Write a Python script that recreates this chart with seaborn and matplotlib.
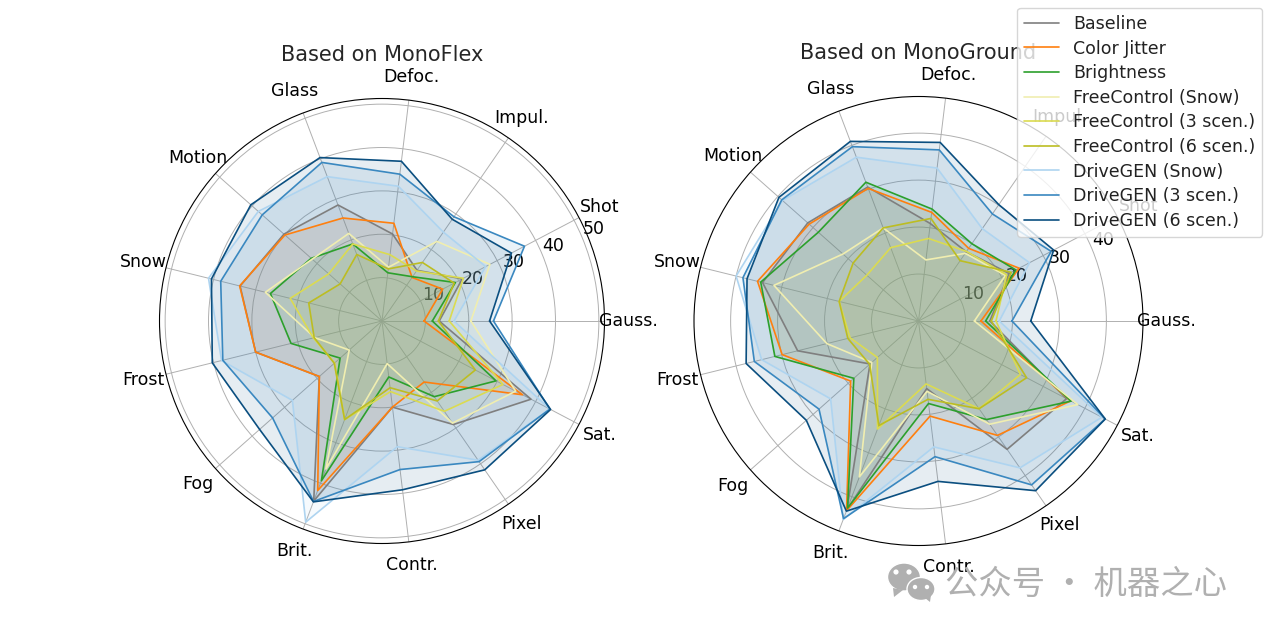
import numpy as np
import pandas as pd
import matplotlib
matplotlib.use("Agg")
import matplotlib.pyplot as plt
from matplotlib.patches import Ellipse, Polygon
import seaborn as sns

categories = ["Gauss.", "Shot", "Impul.", "Defoc.", "Glass", "Motion", "Snow",
              "Frost", "Fog", "Brit.", "Contr.", "Pixel", "Sat."]
series_names = ["Baseline", "Color Jitter", "Brightness", "FreeControl (Snow)",
                "FreeControl (3 scen.)", "FreeControl (6 scen.)",
                "DriveGEN (Snow)", "DriveGEN (3 scen.)", "DriveGEN (6 scen.)"]
series_colors = ["#7f7f7f", "#ff7f0e", "#2ca02c", "#f0eeb0", "#dbdb50", "#bcbd22",
                 "#aed4f0", "#3a88c0", "#0b4f80"]

flex_baseline = [13.2, 20.9, 14.2, 20.2, 28.6, 30.2, 33.7, 30.0, 19.3, 44.4, 20.0, 29.0, 38.8]
flex_jitter = [9.7, 15.8, 12.2, 22.7, 25.4, 29.9, 33.8, 30.0, 19.3, 41.8, 20.0, 17.1, 36.6]
flex_bright = [11.6, 19.1, 12.4, 11.2, 19.0, 21.8, 26.5, 21.6, 12.9, 39.4, 13.0, 21.2, 29.7]
flex_fc_snow = [20.5, 28.1, 22.3, 12.5, 21.6, 21.5, 27.7, 16.0, 10.1, 36.5, 9.9, 28.6, 34.8]
flex_fc_3 = [15.5, 21.2, 14.0, 15.4, 19.0, 16.4, 21.8, 16.3, 14.6, 24.3, 16.4, 25.3, 31.5]
flex_fc_6 = [13.0, 18.8, 16.4, 12.1, 16.4, 12.9, 17.4, 16.1, 14.7, 24.3, 15.5, 22.4, 24.3]
flex_dg_snow = [16.6, 27.0, 24.9, 31.3, 35.6, 38.1, 41.2, 38.1, 27.6, 49.6, 29.2, 39.0, 43.7]
flex_dg_3 = [25.7, 37.1, 29.2, 34.1, 39.1, 36.9, 38.3, 37.8, 33.7, 44.5, 34.5, 39.4, 43.7]
flex_dg_6 = [24.8, 33.7, 28.5, 37.1, 40.3, 40.4, 40.5, 40.3, 37.7, 44.6, 39.2, 41.7, 43.9]

ground_baseline = [15.2, 21.8, 17.9, 20.9, 30.5, 31.5, 34.2, 26.5, 13.8, 43.0, 14.5, 33.2, 35.6]
ground_jitter = [13.3, 24.2, 18.8, 23.3, 30.2, 31.1, 35.3, 29.9, 19.3, 43.2, 20.4, 29.6, 36.6]
ground_bright = [14.3, 23.4, 20.0, 24.0, 31.6, 28.5, 34.6, 31.5, 18.4, 42.6, 17.7, 25.5, 36.7]
ground_fc_snow = [11.9, 20.9, 17.5, 13.1, 21.2, 21.5, 31.7, 20.1, 13.3, 35.5, 15.1, 26.7, 38.3]
ground_fc_3 = [16.5, 21.2, 18.0, 17.7, 16.7, 14.7, 17.4, 15.0, 11.7, 24.6, 13.5, 22.7, 24.5]
ground_fc_6 = [15.5, 22.3, 15.6, 22.0, 21.2, 18.6, 17.4, 15.5, 13.9, 23.8, 16.8, 22.7, 26.0]
ground_dg_snow = [17.2, 26.7, 23.9, 32.8, 37.3, 38.7, 40.0, 34.4, 25.0, 45.2, 27.0, 38.0, 44.1]
ground_dg_3 = [19.9, 31.9, 27.7, 36.7, 39.7, 38.9, 38.5, 36.0, 28.3, 45.0, 29.1, 42.4, 44.9]
ground_dg_6 = [23.9, 32.5, 30.1, 38.3, 40.9, 39.7, 37.6, 37.8, 31.9, 43.3, 34.4, 43.9, 44.9]

flex_values = [flex_baseline, flex_jitter, flex_bright, flex_fc_snow, flex_fc_3,
               flex_fc_6, flex_dg_snow, flex_dg_3, flex_dg_6]
ground_values = [ground_baseline, ground_jitter, ground_bright, ground_fc_snow, ground_fc_3,
                 ground_fc_6, ground_dg_snow, ground_dg_3, ground_dg_6]

sns.set_theme(style="white", rc={"axes.edgecolor": "black"})
W, H = 1270, 635
fig = plt.figure(figsize=(W / 100, H / 100), dpi=100, facecolor="white")


def polar_axes(cx, cy, radius):
    return fig.add_axes([(cx - radius) / W, 1 - (cy + radius) / H, 2 * radius / W, 2 * radius / H],
                        projection="polar")


n = len(categories)
base_theta = np.arange(n) * 2 * np.pi / n
theta = np.append(base_theta, 2 * np.pi)
order = series_names


def draw(ax, values, title, rmax, rticks):
    frames = []
    for name, vals in zip(series_names, values):
        frames.append(pd.DataFrame({"theta": theta, "value": list(vals) + [vals[0]], "series": name}))
    df = pd.concat(frames, ignore_index=True)
    sns.lineplot(data=df, x="theta", y="value", hue="series", hue_order=order,
                 palette=series_colors, sort=False, estimator=None, linewidth=1.2,
                 legend=False, ax=ax)
    for name, color in zip(series_names, series_colors):
        sub = df[df["series"] == name]
        ax.fill(sub["theta"], sub["value"], color=color, alpha=0.1, linewidth=0)
    ax.set_xlabel("")
    ax.set_ylabel("")
    ax.set_thetagrids(np.degrees(base_theta), categories)
    ax.set_ylim(0, rmax)
    ax.set_rticks(rticks)
    ax.set_rlabel_position(22.5)
    ax.tick_params(axis="both", labelsize=12.5, colors="black", pad=4)
    ax.grid(True, color="#b0b0b0", linewidth=0.7)
    ax.spines["polar"].set_edgecolor("black")
    ax.spines["polar"].set_linewidth(0.8)
    ax.set_title(title, fontsize=15, pad=27)


ax1 = polar_axes(382, 321, 222.5)
draw(ax1, flex_values, "Based on MonoFlex", 51.3, [10, 20, 30, 40, 50])
ax2 = polar_axes(918.5, 321, 224.5)
draw(ax2, ground_values, "Based on MonoGround", 47.8, [10, 20, 30, 40])

handles = [plt.Line2D([], [], color=c, linewidth=1.2) for c in series_colors]
ax2.legend(handles, series_names, loc="upper right",
           bbox_to_anchor=(1262 / W, 1 - 8 / H), bbox_transform=fig.transFigure,
           borderaxespad=0, fontsize=12.5, frameon=True, framealpha=0.8,
           edgecolor="#cccccc", labelcolor="#222222", labelspacing=0.38)

# Watermark
wm = "#b0b0b0"
fig.text(945 / W, 1 - 584 / H, "公众号 · 机器之心", fontsize=24, color=wm, va="center", ha="left",
         family=["Noto Sans CJK SC", "DejaVu Sans"])


def px(x, y):
    return (x / W, 1 - y / H)


for cx, cy, w, h, tail in [(904, 577, 33, 28, [(893, 588), (894, 597), (903, 590)]),
                           (921, 589, 28, 23, [(925, 598), (930, 602), (931, 595)])]:
    fig.add_artist(Ellipse(px(cx, cy), w / W, h / H, color=wm, ec="white", lw=1,
                           transform=fig.transFigure))
    fig.add_artist(Polygon([px(*p) for p in tail], closed=True, color=wm, lw=0,
                           transform=fig.transFigure))
for cx, cy, r in [(896, 572, 2.6), (909, 572, 2.6), (915, 587, 2.2), (927, 587, 2.2)]:
    fig.add_artist(Ellipse(px(cx, cy), 2 * r / W, 2 * r / H, color="white", lw=0,
                           transform=fig.transFigure))

fig.savefig("out.png", dpi=100, facecolor="white")
